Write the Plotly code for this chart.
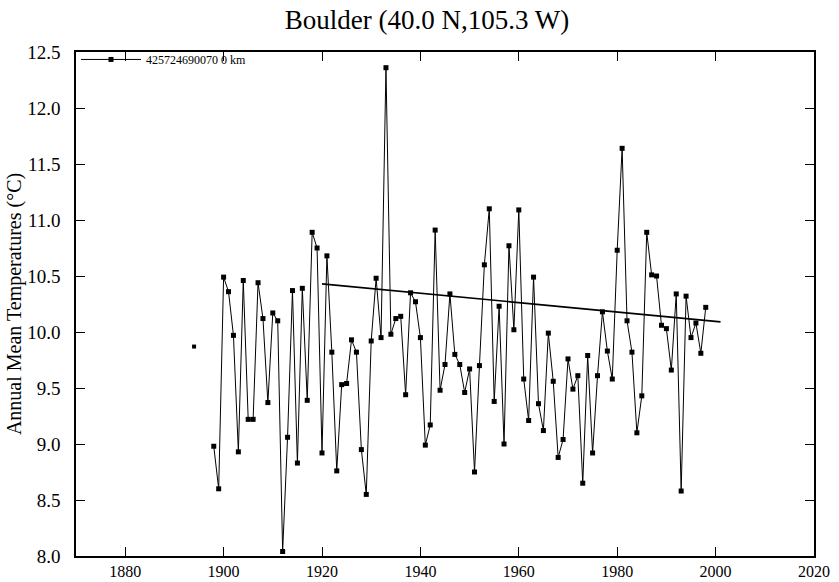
import plotly.graph_objects as go

# Isolated early value
early_years = [1894]
early_vals = [9.87]

# Continuous annual record
years = list(range(1898, 1999))
temps = [
    8.98, 8.60, 10.49, 10.36, 9.97, 8.93, 10.46, 9.22, 9.22, 10.44,   # 1898-1907
    10.12, 9.37, 10.17, 10.10, 8.04, 9.06, 10.37, 8.83, 10.39, 9.39,  # 1908-1917
    10.89, 10.75, 8.92, 10.68, 9.82, 8.76, 9.53, 9.54, 9.93, 9.82,    # 1918-1927
    8.95, 8.55, 9.92, 10.48, 9.95, 12.36, 9.98, 10.12, 10.14, 9.44,   # 1928-1937
    10.35, 10.27, 9.95, 8.99, 9.17, 10.91, 9.48, 9.71, 10.34, 9.80,   # 1938-1947
    9.71, 9.46, 9.67, 8.75, 9.70, 10.60, 11.10, 9.38, 10.23, 9.00,    # 1948-1957
    10.77, 10.02, 11.09, 9.58, 9.21, 10.49, 9.36, 9.12, 9.99, 9.56,   # 1958-1967
    8.88, 9.04, 9.76, 9.49, 9.61, 8.65, 9.79, 8.92, 9.61, 10.18,      # 1968-1977
    9.83, 9.58, 10.73, 11.64, 10.10, 9.82, 9.10, 9.43, 10.89, 10.51,  # 1978-1987
    10.50, 10.06, 10.03, 9.66, 10.34, 8.58, 10.32, 9.95, 10.08, 9.81, # 1988-1997
    10.22,                                                            # 1998
]

# Linear trend line end points
trend_years = [1920, 2001]
trend_vals = [10.43, 10.09]

x_ticks = [1880, 1900, 1920, 1940, 1960, 1980, 2000, 2020]
y_ticks = [8.0, 8.5, 9.0, 9.5, 10.0, 10.5, 11.0, 11.5, 12.0, 12.5]

station_label = "425724690070 0 km"
title_text = "Boulder (40.0 N,105.3 W)"
y_title = "Annual Mean Temperatures (°C)"

serif = "Liberation Serif, Times New Roman, serif"

fig = go.Figure()

fig.add_trace(go.Scatter(
    x=years, y=temps, mode="lines+markers", name=station_label,
    line=dict(color="black", width=1),
    marker=dict(symbol="square", size=5, color="black"),
    showlegend=True,
))
fig.add_trace(go.Scatter(
    x=early_years, y=early_vals, mode="markers", name=station_label,
    marker=dict(symbol="square", size=4, color="black"),
    showlegend=False,
))
fig.add_trace(go.Scatter(
    x=trend_years, y=trend_vals, mode="lines",
    line=dict(color="black", width=1.6),
    showlegend=False,
))

fig.update_layout(
    width=839, height=582,
    margin=dict(l=76, r=25, t=52, b=26, autoexpand=False),
    paper_bgcolor="white", plot_bgcolor="white",
    font=dict(family=serif, color="black", size=15),
    title=dict(text=title_text, x=0.509, xref="container", xanchor="center",
               y=1 - 20 / 582, yref="container", yanchor="middle",
               font=dict(family=serif, size=27, color="black")),
    legend=dict(x=0.0, y=1.014, xanchor="left", yanchor="top",
                bgcolor="rgba(0,0,0,0)", borderwidth=0,
                font=dict(family=serif, size=12, color="black"),
                itemwidth=60, tracegroupgap=0),
)

fig.update_xaxes(
    range=[1870, 2020], tickvals=x_ticks, ticktext=[str(t) for t in x_ticks],
    ticks="inside", ticklen=9, tickwidth=1, tickcolor="black",
    showline=True, linecolor="black", linewidth=1.5, mirror="ticks",
    showgrid=False, zeroline=False, automargin=False,
    tickfont=dict(family=serif, size=16, color="black"),
)
fig.update_yaxes(
    range=[8.0, 12.5], tickvals=y_ticks, ticktext=[f"{t:.1f}" for t in y_ticks],
    ticks="inside", ticklen=9, tickwidth=1, tickcolor="black",
    showline=True, linecolor="black", linewidth=1.5, mirror="ticks",
    showgrid=False, zeroline=False, automargin=False,
    ticklabelstandoff=10,
    tickfont=dict(family=serif, size=19, color="black"),
    title=dict(text=y_title, font=dict(family=serif, size=20, color="black"), standoff=0),
)

fig.write_html(
    "out.html",
    config={"displayModeBar": False},
    post_script="document.body.style.margin='0';document.body.style.overflow='hidden';",
)
